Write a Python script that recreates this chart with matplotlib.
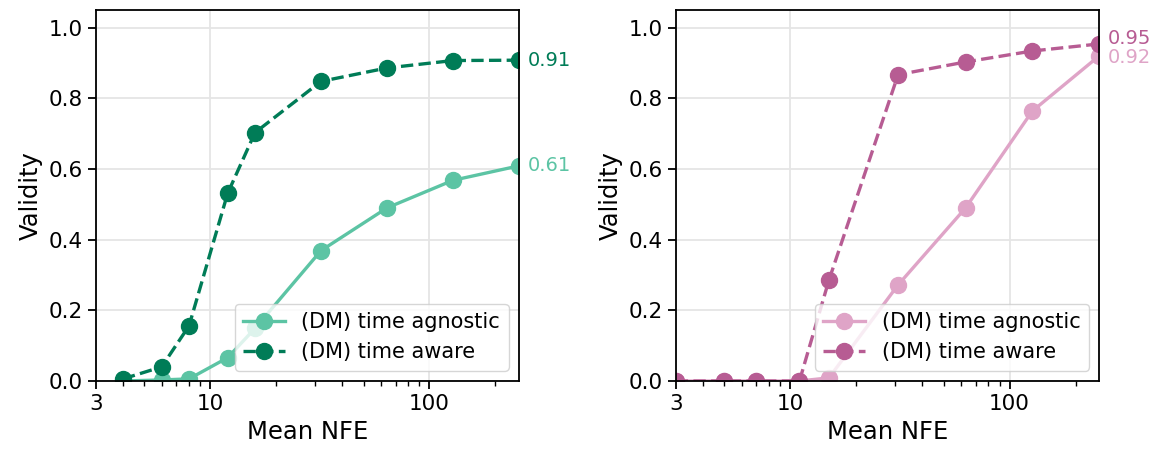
import matplotlib
matplotlib.use("Agg")
import matplotlib.pyplot as plt

# -----------------------------
# Data
# -----------------------------
nfe_left = [4, 6, 8, 12, 16, 32, 64, 128, 256]
agnostic_left = [0.0, 0.003, 0.006, 0.066, 0.149, 0.369, 0.49, 0.568, 0.609]
aware_left = [0.006, 0.04, 0.156, 0.531, 0.703, 0.848, 0.886, 0.907, 0.908]

nfe_right = [3, 5, 7, 11, 15, 31, 63, 127, 256]
agnostic_right = [0.0, 0.0, 0.0, 0.0, 0.009, 0.272, 0.49, 0.764, 0.92]
aware_right = [0.0, 0.0, 0.0, 0.0, 0.286, 0.867, 0.903, 0.934, 0.954]

xtick_vals = [3, 10, 100]
xtick_labels = ["3", "10", "100"]

colors_left = ("#5cc4a4", "#007c57")
colors_right = ("#dfa4c7", "#b75c93")

fig = plt.figure(figsize=(11.51, 4.51), dpi=100)
ax1 = fig.add_axes([0.0831, 0.1552, 0.3678, 0.8226])
ax2 = fig.add_axes([0.5871, 0.1552, 0.3678, 0.8226])


def draw_panel(ax, x, agn, aware, colors, label_offsets):
    light, dark = colors
    ax.plot(x, agn, "-o", color=light, lw=2.4, ms=11.5, label="(DM) time agnostic")
    ax.plot(x, aware, "--o", color=dark, lw=2.4, ms=11.5, label="(DM) time aware")

    ax.set_xscale("log")
    ax.set_xlim(3, 256)
    ax.set_ylim(0, 1.05)
    ax.set_xticks(xtick_vals)
    ax.set_xticklabels(xtick_labels)
    ax.set_yticks([0, 0.2, 0.4, 0.6, 0.8, 1.0])
    ax.tick_params(axis="both", which="major", labelsize=15.5, length=6, width=1.3)
    ax.tick_params(axis="x", which="minor", length=3.5, width=1.0)
    ax.grid(True, which="major", color="#e5e5e5", lw=1.3)
    ax.set_axisbelow(True)
    for s in ax.spines.values():
        s.set_linewidth(1.3)

    ax.set_xlabel("Mean NFE", fontsize=17.5)
    ax.set_ylabel("Validity", fontsize=17.5)

    # final value labels at the right edge
    ax.annotate(f"{agn[-1]:.2f}", (x[-1], agn[-1]), xytext=(6, label_offsets[0]),
                textcoords="offset points", color=light, fontsize=14,
                va="center", ha="left", annotation_clip=False)
    ax.annotate(f"{aware[-1]:.2f}", (x[-1], aware[-1]), xytext=(6, label_offsets[1]),
                textcoords="offset points", color=dark, fontsize=14,
                va="center", ha="left", annotation_clip=False)

    ax.legend(loc="lower right", fontsize=15)


draw_panel(ax1, nfe_left, agnostic_left, aware_left, colors_left, (0, 0))
draw_panel(ax2, nfe_right, agnostic_right, aware_right, colors_right, (-1, 4))

fig.savefig("out.png", dpi=100)
